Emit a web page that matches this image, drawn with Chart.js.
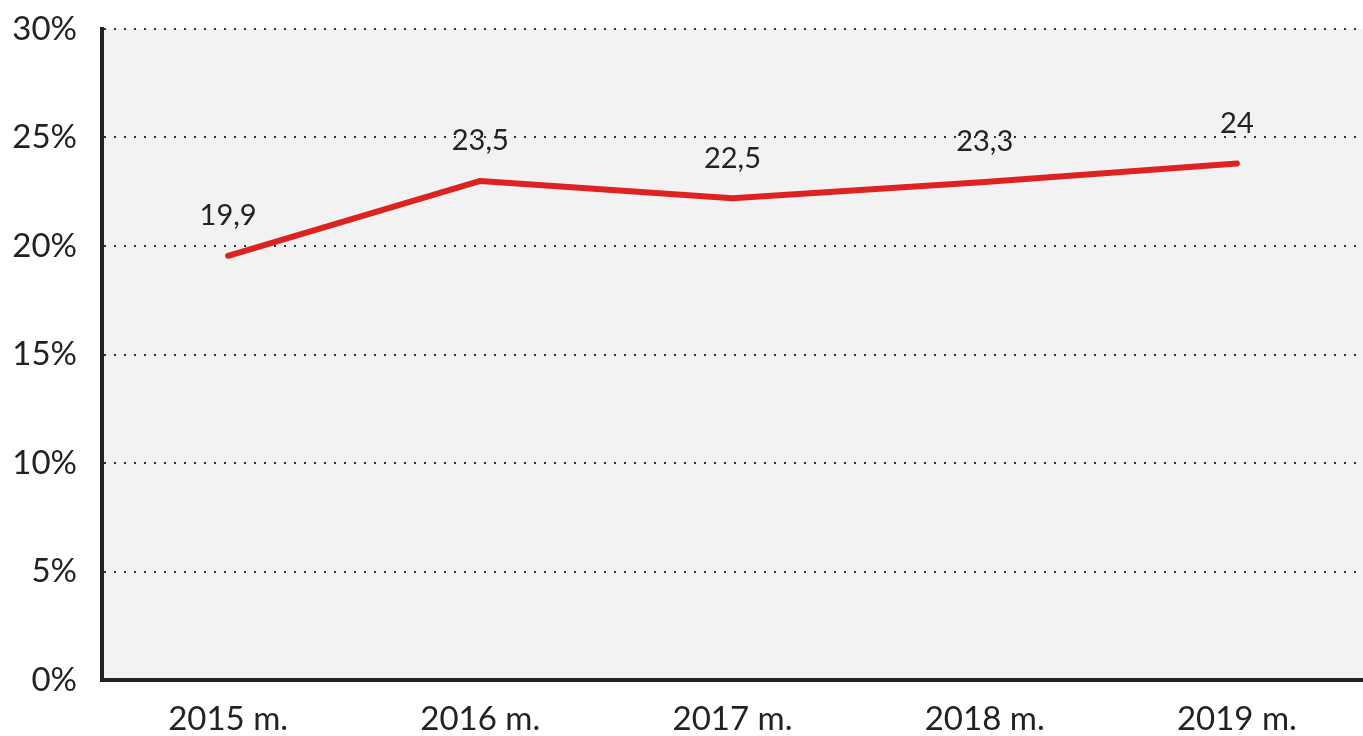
<!DOCTYPE html>
<html>
<head>
<meta charset="utf-8">
<script src="https://cdn.jsdelivr.net/npm/chart.js@4/dist/chart.umd.min.js"></script>
<style>
  html, body { margin: 0; padding: 0; background: #fff; }
  #wrap { width: 1363px; height: 736px; }
</style>
</head>
<body>
<div id="wrap"><canvas id="lineChart" width="1363" height="736"></canvas></div>
<script>
const years = ['2015 m.', '2016 m.', '2017 m.', '2018 m.', '2019 m.'];
const shares = [19.55, 23.0, 22.2, 22.95, 23.8];
const shareLabels = ['19,9', '23,5', '22,5', '23,3', '24'];
const yTicks = [0, 5, 10, 15, 20, 25, 30];

const textColor = '#222222';

// grey plot background
const plotBg = {
    id: 'plotBg',
    beforeDraw(chart) {
        const a = chart.chartArea;
        const ctx = chart.ctx;
        ctx.save();
        ctx.fillStyle = '#f2f2f2';
        ctx.fillRect(a.left, a.top, a.right - a.left, a.bottom - a.top);
        ctx.restore();
    }
};

// value labels above the line
const valueLabels = {
    id: 'valueLabels',
    afterDatasetsDraw(chart) {
        const ctx = chart.ctx;
        const meta = chart.getDatasetMeta(0);
        ctx.save();
        ctx.font = '29px Lato';
        ctx.fillStyle = textColor;
        ctx.textAlign = 'center';
        ctx.textBaseline = 'middle';
        meta.data.forEach((pt, i) => {
            ctx.fillText(shareLabels[i], pt.x, pt.y - 40);
        });
        ctx.restore();
    }
};

const ctx = document.getElementById('lineChart').getContext('2d');
new Chart(ctx, {
    type: 'line',
    data: {
        labels: years,
        datasets: [{
            data: shares,
            borderColor: '#dd2222',
            borderWidth: 6,
            borderCapStyle: 'round',
            borderJoinStyle: 'round',
            pointRadius: 0,
            tension: 0,
            fill: false
        }]
    },
    options: {
        responsive: false,
        animation: false,
        layout: { padding: 0 },
        plugins: {
            legend: { display: false },
            tooltip: { enabled: false }
        },
        scales: {
            x: {
                offset: true,
                afterFit(scale) { scale.height = 56; },
                grid: { display: false, drawTicks: false },
                border: { display: true, color: '#222222', width: 4 },
                ticks: {
                    color: textColor,
                    font: { family: 'Lato', size: 33 },
                    padding: 20
                }
            },
            y: {
                min: 0,
                max: 30,
                afterFit(scale) {
                    scale.width = 102;
                    scale.paddingTop = 29;
                    scale.paddingBottom = 0;
                },
                afterBuildTicks(scale) { scale.ticks = yTicks.map(v => ({ value: v })); },
                grid: { color: '#333333', lineWidth: 2, drawTicks: false },
                border: { display: true, color: '#222222', width: 4, dash: [2, 8] },
                ticks: {
                    color: textColor,
                    font: { family: 'Lato', size: 33 },
                    padding: 25,
                    callback: v => v + '%'
                }
            }
        }
    },
    plugins: [plotBg, valueLabels]
});
</script>
</body>
</html>
